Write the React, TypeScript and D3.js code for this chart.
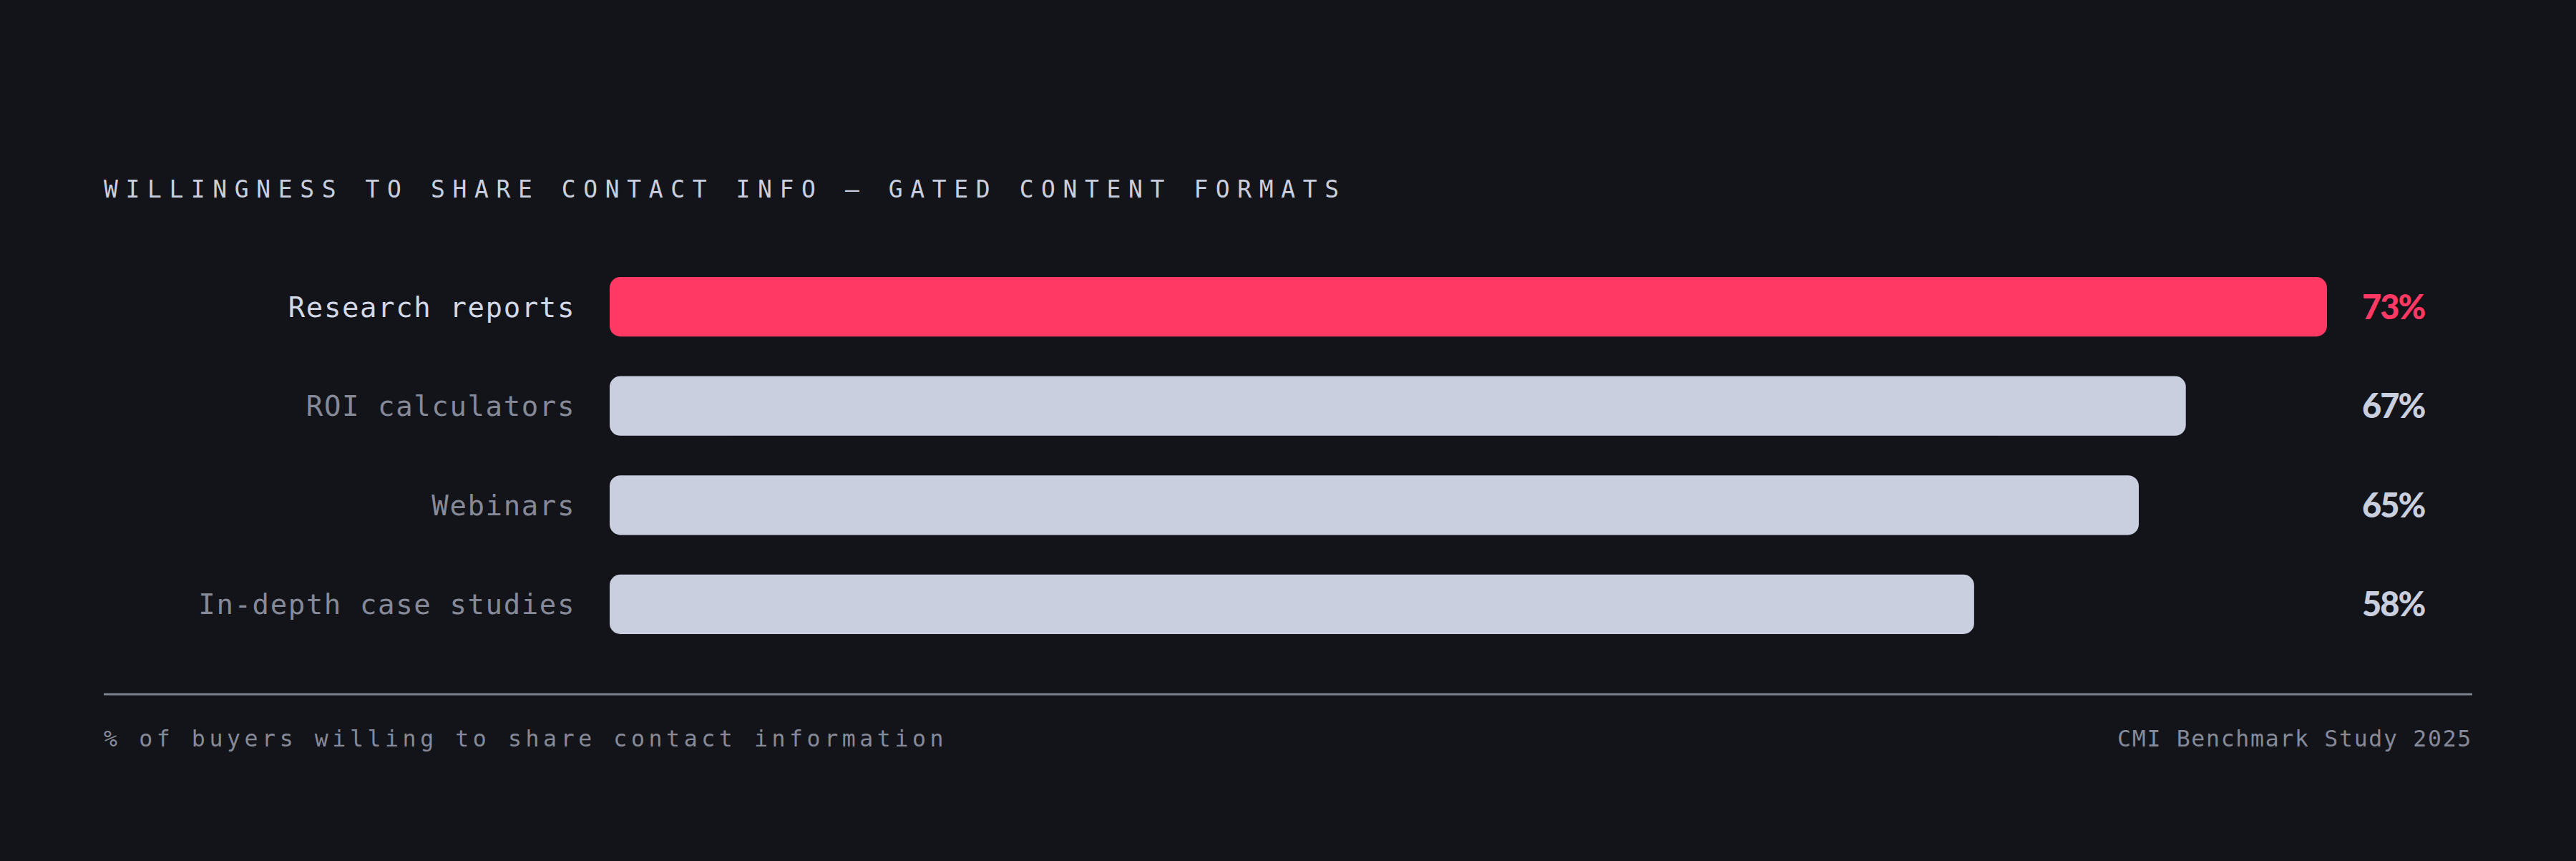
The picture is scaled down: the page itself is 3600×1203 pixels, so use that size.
import { max, scaleBand, scaleLinear } from 'd3';

const categories = ['Research reports', 'ROI calculators', 'Webinars', 'In-depth case studies'];
const shares = [73, 67, 65, 58];
const highlighted = ['Research reports'];

const title = 'WILLINGNESS TO SHARE CONTACT INFO — GATED CONTENT FORMATS';
const footnote = '% of buyers willing to share contact information';
const source = 'CMI Benchmark Study 2025';

const width = 3600;
const height = 1203;
const left = 145;
const right = 3455;
const barStart = 852;
const barEnd = 3252;

const bg = '#131419';
const pink = '#ff3864';
const pale = '#c9cfdf';
const muted = '#868a98';
const mono = '"DejaVu Sans Mono", "Liberation Mono", monospace';

export default function App() {
  const xScale = scaleLinear()
    .domain([0, max(shares) ?? 1])
    .range([barStart, barEnd]);

  const yScale = scaleBand<string>()
    .domain(categories)
    .range([387, 886])
    .paddingInner(0.4)
    .paddingOuter(0);

  const band = yScale.bandwidth();

  return (
    <div style={{ position: 'fixed', left: 0, top: 0, width, height, background: bg }}>
      <svg width={width} height={height} viewBox={`0 0 ${width} ${height}`} style={{ display: 'block' }}>
        <rect x={0} y={0} width={width} height={height} fill={bg} />

        <text x={left} y={276} fill={pale} fontFamily={mono} fontSize={33} letterSpacing={10.6}>
          {title}
        </text>

        {categories.map((name, i) => {
          const y = yScale(name) ?? 0;
          const mid = y + band / 2;
          const hot = highlighted.includes(name);
          return (
            <g key={name}>
              <text
                x={804}
                y={mid + 14}
                textAnchor="end"
                fill={hot ? '#d3d8e6' : muted}
                fontFamily={mono}
                fontSize={39}
                letterSpacing={1.6}
              >
                {name}
              </text>
              <rect
                x={barStart}
                y={y}
                width={xScale(shares[i]) - barStart}
                height={band}
                rx={15}
                fill={hot ? pink : pale}
              />
              <text
                x={3301}
                y={mid + 17}
                fill={hot ? pink : pale}
                fontFamily="Lato, 'Noto Sans', sans-serif"
                fontWeight={900}
                fontSize={47}
                letterSpacing={-2}
              >
                {shares[i]}%
              </text>
            </g>
          );
        })}

        <line x1={left} x2={right} y1={970} y2={970} stroke="#7e828f" strokeWidth={3} />

        <text x={left} y={1043} fill={muted} fontFamily={mono} fontSize={31.5} letterSpacing={5.6}>
          {footnote}
        </text>
        <text x={right} y={1043} textAnchor="end" fill={muted} fontFamily={mono} fontSize={31.5} letterSpacing={1.7}>
          {source}
        </text>
      </svg>
    </div>
  );
}
